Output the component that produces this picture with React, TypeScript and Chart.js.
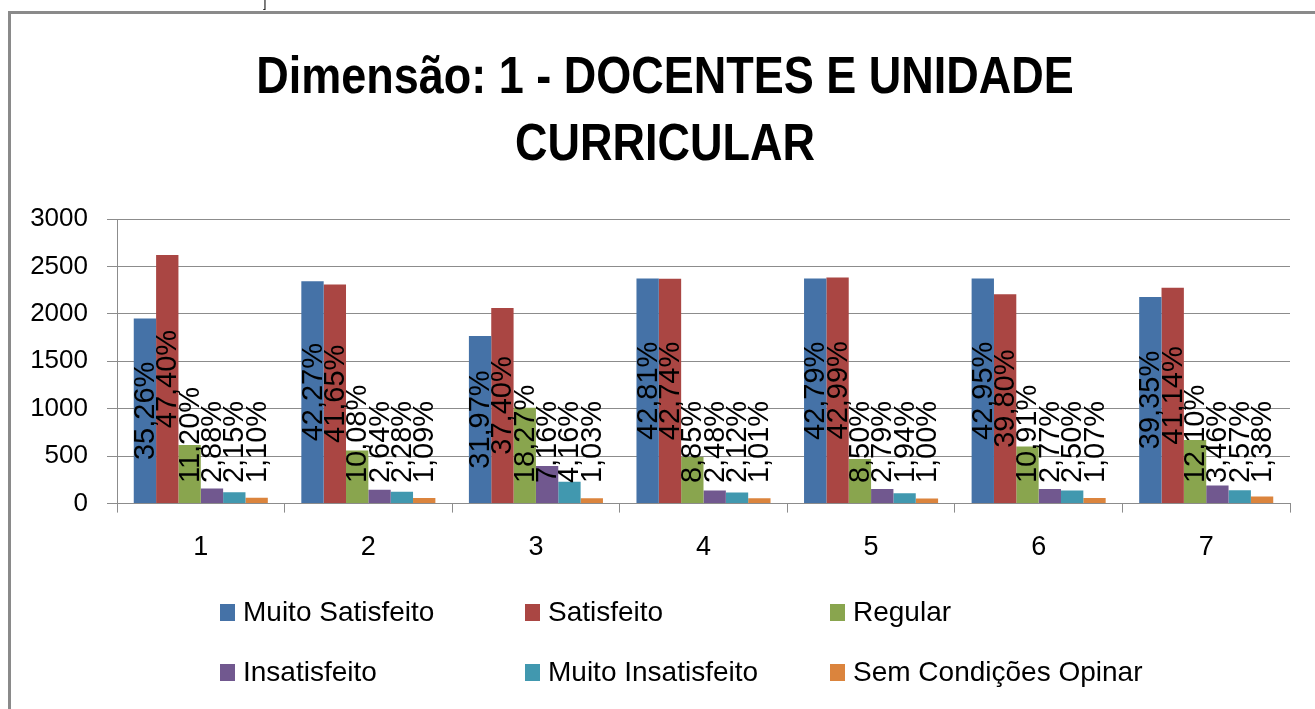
import React, { useEffect, useRef } from "react";
import { Chart, registerables } from "chart.js";

Chart.register(...registerables);

const categories = ["1", "2", "3", "4", "5", "6", "7"];
const seriesNames = [
  "Muito Satisfeito",
  "Satisfeito",
  "Regular",
  "Insatisfeito",
  "Muito Insatisfeito",
  "Sem Condições Opinar",
];
const muitoSatisfeito = [1950, 2344, 1767, 2373, 2373, 2373, 2179];
const satisfeito = [2621, 2310, 2063, 2369, 2384, 2207, 2274];
const regular = [619, 559, 1010, 490, 471, 603, 670];
const insatisfeito = [159, 146, 396, 137, 155, 153, 192];
const muitoInsatisfeito = [119, 126, 230, 117, 108, 138, 142];
const semCondicoes = [61, 60, 57, 56, 55, 59, 76];

const pctMuitoSatisfeito = ["35,26%", "42,27%", "31,97%", "42,81%", "42,79%", "42,95%", "39,35%"];
const pctSatisfeito = ["47,40%", "41,65%", "37,40%", "42,74%", "42,99%", "39,80%", "41,14%"];
const pctRegular = ["11,20%", "10,08%", "18,27%", "8,85%", "8,50%", "10,91%", "12,10%"];
const pctInsatisfeito = ["2,88%", "2,64%", "7,16%", "2,48%", "2,79%", "2,77%", "3,46%"];
const pctMuitoInsatisfeito = ["2,15%", "2,28%", "4,16%", "2,12%", "1,94%", "2,50%", "2,57%"];
const pctSemCondicoes = ["1,10%", "1,09%", "1,03%", "1,01%", "1,00%", "1,07%", "1,38%"];

const yTicks = [0, 500, 1000, 1500, 2000, 2500, 3000];
const titleLines = ["Dimensão: 1 - DOCENTES E UNIDADE", "CURRICULAR"];

const colors = ["#4572A7", "#AA4643", "#89A54E", "#71588F", "#4198AF", "#DB843D"];
const FONT = "'Liberation Sans', Arial, sans-serif";

export default function App() {
  const ref = useRef<HTMLCanvasElement | null>(null);

  useEffect(() => {
    const canvas = ref.current;
    if (!canvas) return;
    const values = [muitoSatisfeito, satisfeito, regular, insatisfeito, muitoInsatisfeito, semCondicoes];
    const pcts = [pctMuitoSatisfeito, pctSatisfeito, pctRegular, pctInsatisfeito, pctMuitoInsatisfeito, pctSemCondicoes];

    const framePlugin = {
      id: "frame",
      beforeDraw(chart: any) {
        const ctx = chart.ctx;
        ctx.save();
        ctx.fillStyle = "#ffffff";
        ctx.fillRect(0, 0, chart.width, chart.height);
        ctx.fillStyle = "#8a8a8a";
        ctx.fillRect(8, 11, 3, chart.height - 11);
        ctx.fillRect(8, 11, chart.width - 8, 3);
        ctx.fillStyle = "#000";
        ctx.font = "12px " + FONT;
        ctx.textAlign = "left";
        ctx.textBaseline = "alphabetic";
        ctx.fillText("]", 263, 7);
        // title
        ctx.font = "bold 45px " + FONT;
        ctx.textAlign = "center";
        const baselines = [93, 160];
        titleLines.forEach((line, i) => {
          ctx.save();
          ctx.translate(665, baselines[i]);
          ctx.scale(1, 1.15);
          ctx.fillText(line, 0, 0);
          ctx.restore();
        });
        ctx.restore();
      },
    };

    const labelPlugin = {
      id: "barLabels",
      afterDatasetsDraw(chart: any) {
        const ctx = chart.ctx;
        ctx.save();
        ctx.font = "29px " + FONT;
        ctx.fillStyle = "#000";
        ctx.textAlign = "center";
        ctx.textBaseline = "middle";
        chart.data.datasets.forEach((ds: any, di: number) => {
          const meta = chart.getDatasetMeta(di);
          meta.data.forEach((el: any, i: number) => {
            const txt = pcts[di][i];
            const w = ctx.measureText(txt).width;
            const mid = (el.y + el.base) / 2;
            let bottom = mid + w / 2;
            const limit = el.base - 20;
            if (bottom > limit) bottom = limit;
            const cy = bottom - w / 2;
            ctx.save();
            ctx.translate(el.x + 1, cy);
            ctx.rotate(-Math.PI / 2);
            ctx.fillText(txt, 0, 0);
            ctx.restore();
          });
        });
        ctx.restore();
      },
    };

    const legendPlugin = {
      id: "customLegend",
      afterDraw(chart: any) {
        const ctx = chart.ctx;
        ctx.save();
        ctx.font = "28px " + FONT;
        ctx.textAlign = "left";
        ctx.textBaseline = "middle";
        const colX = [220, 525, 830];
        const rowY = [612, 672];
        seriesNames.forEach((name, i) => {
          const c = i % 3;
          const r = Math.floor(i / 3);
          const x = colX[c];
          const y = rowY[r];
          ctx.fillStyle = colors[i];
          ctx.fillRect(x, y - 8, 15, 17);
          ctx.fillStyle = "#000";
          ctx.fillText(name, x + 23, y + 1);
        });
        ctx.restore();
      },
    };

    const chart = new Chart(canvas, {
      type: "bar",
      data: {
        labels: categories,
        datasets: seriesNames.map((name, i) => ({
          label: name,
          data: values[i],
          backgroundColor: colors[i],
          borderWidth: 0,
          categoryPercentage: 0.8,
          barPercentage: 1.0,
        })),
      },
      options: {
        responsive: false,
        animation: false,
        events: [],
        layout: { padding: { left: 26, right: 25, top: 219, bottom: 126 } },
        plugins: {
          legend: { display: false },
          tooltip: { enabled: false },
          title: { display: false },
        },
        scales: {
          x: {
            grid: {
              drawOnChartArea: false,
              drawTicks: true,
              tickLength: 9,
              color: "#8c8c8c",
              offset: true,
            },
            border: { display: true, color: "#8c8c8c" },
            ticks: { color: "#000", font: { family: FONT, size: 27 }, padding: 19 },
          },
          y: {
            min: 0,
            max: 3000,
            afterFit(axis: any) {
              axis.width = 91;
            },
            afterBuildTicks(axis: any) {
              axis.ticks = yTicks.map((v) => ({ value: v }));
            },
            grid: { color: "#8c8c8c", tickLength: 10, drawTicks: true },
            border: { display: true, color: "#8c8c8c" },
            ticks: {
              color: "#000",
              font: { family: FONT, size: 26 },
              padding: 19,
              callback: (v: any) => String(v),
            },
          },
        },
      },
      plugins: [framePlugin, labelPlugin, legendPlugin],
    });
    return () => chart.destroy();
  }, []);

  return (
    <div style={{ position: "fixed", left: 0, top: 0, width: 1315, height: 709, background: "#fff" }}>
      <canvas ref={ref} width={1315} height={709} style={{ display: "block", width: 1315, height: 709 }} />
    </div>
  );
}
